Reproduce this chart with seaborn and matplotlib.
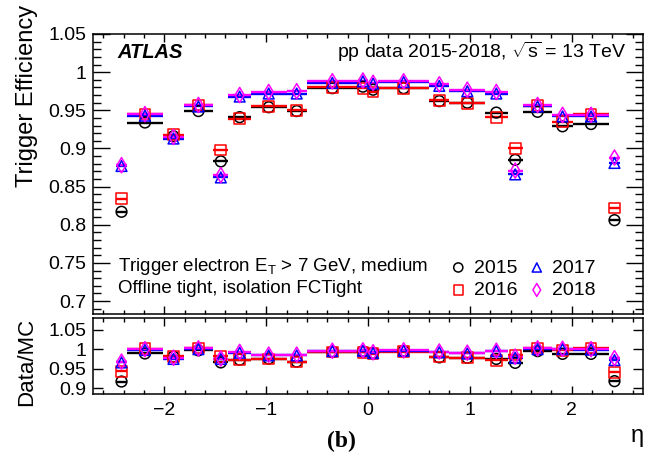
import numpy as np
import pandas as pd
import seaborn as sns
import matplotlib.pyplot as plt
from matplotlib.markers import MarkerStyle
from matplotlib.ticker import MultipleLocator

# eta binning (bin edges) of the efficiency measurement
eta_edges = [-2.47, -2.37, -2.01, -1.81, -1.52, -1.37, -1.15, -0.8, -0.6, -0.1, 0.0,
             0.1, 0.6, 0.8, 1.15, 1.37, 1.52, 1.81, 2.01, 2.37, 2.47]

years = ['2015', '2016', '2017', '2018']

# trigger efficiency per eta bin
eff_2015 = [0.817, 0.934, 0.916, 0.949, 0.883, 0.941, 0.954, 0.949, 0.979, 0.981,
            0.977, 0.979, 0.962, 0.960, 0.947, 0.885, 0.948, 0.929, 0.932, 0.806]
eff_2016 = [0.834, 0.945, 0.918, 0.957, 0.898, 0.939, 0.955, 0.950, 0.980, 0.979,
            0.974, 0.979, 0.963, 0.959, 0.941, 0.900, 0.956, 0.935, 0.945, 0.822]
eff_2017 = [0.877, 0.943, 0.913, 0.955, 0.862, 0.968, 0.972, 0.972, 0.986, 0.988,
            0.985, 0.987, 0.982, 0.975, 0.972, 0.866, 0.955, 0.942, 0.942, 0.881]
eff_2018 = [0.878, 0.945, 0.915, 0.957, 0.865, 0.970, 0.974, 0.975, 0.988, 0.989,
            0.986, 0.988, 0.984, 0.977, 0.974, 0.871, 0.957, 0.944, 0.944, 0.888]

# data / MC ratio per eta bin
ratio_2015 = [0.917, 0.989, 0.981, 0.997, 0.966, 0.973, 0.976, 0.968, 0.993, 0.994,
              0.990, 0.995, 0.979, 0.978, 0.975, 0.965, 0.995, 0.988, 0.988, 0.918]
ratio_2016 = [0.943, 1.001, 0.982, 1.003, 0.982, 0.973, 0.975, 0.967, 0.993, 0.992,
              0.988, 0.994, 0.980, 0.978, 0.971, 0.985, 1.003, 0.997, 1.003, 0.941]
ratio_2017 = [0.966, 0.998, 0.975, 1.000, 0.975, 0.991, 0.984, 0.984, 0.995, 0.996,
              0.990, 0.996, 0.992, 0.989, 0.995, 0.978, 1.000, 1.000, 0.999, 0.972]
ratio_2018 = [0.968, 1.000, 0.978, 1.002, 0.976, 0.993, 0.986, 0.986, 0.996, 0.997,
              0.992, 0.997, 0.994, 0.991, 0.996, 0.981, 1.002, 1.001, 1.000, 0.977]

colors = {'2015': 'black', '2016': '#ff0000', '2017': '#0000ff', '2018': '#ff00ff'}
markers = {'2015': 'o', '2016': 's', '2017': '^', '2018': 'd'}

edges = np.array(eta_edges)
centers = 0.5 * (edges[1:] + edges[:-1])
halfw = 0.5 * (edges[1:] - edges[:-1])

effs = [eff_2015, eff_2016, eff_2017, eff_2018]
ratios = [ratio_2015, ratio_2016, ratio_2017, ratio_2018]
rows = []
for yr, e, r in zip(years, effs, ratios):
    for c, hw, ev, rv in zip(centers, halfw, e, r):
        rows.append({'year': yr, 'eta': c, 'hw': hw, 'eff': ev, 'ratio': rv})
df = pd.DataFrame(rows)

sns.set_style('ticks')
plt.rcParams['font.family'] = ['Liberation Sans', 'DejaVu Sans']
plt.rcParams['mathtext.fontset'] = 'custom'
plt.rcParams['mathtext.rm'] = 'Liberation Sans'
plt.rcParams['mathtext.it'] = 'Liberation Sans:italic'
plt.rcParams['axes.linewidth'] = 1.1
plt.rcParams['axes.edgecolor'] = 'black'
plt.rcParams['text.color'] = 'black'

W, H = 645, 465
fig = plt.figure(figsize=(W / 100, H / 100), dpi=100)
ax1 = fig.add_axes([93 / W, 1 - 314 / H, 550 / W, 280 / H])
ax2 = fig.add_axes([93 / W, 1 - 394 / H, 550 / W, 76 / H], sharex=ax1)

handles = []
for yr in years:
    sub = df[df['year'] == yr]
    col = colors[yr]
    mk = MarkerStyle(markers[yr], fillstyle='none')
    for ax, var in [(ax1, 'eff'), (ax2, 'ratio')]:
        ax.errorbar(sub['eta'], sub[var], xerr=sub['hw'], fmt='none',
                    ecolor=col, elinewidth=1.7, capsize=0, zorder=2)
        sns.scatterplot(data=sub, x='eta', y=var, marker=mk, color=col, s=60,
                        linewidth=1.1, ax=ax, zorder=3,
                        label=yr if ax is ax1 else None, legend=False)
    handles.append(ax1.collections[-1])

# axes ranges and ticks
ax1.set_xlim(-2.7, 2.7)
ax1.set_ylim(0.683, 1.05)
ax2.set_ylim(0.885, 1.08)

ax1.yaxis.set_minor_locator(MultipleLocator(0.01))
ax1.xaxis.set_major_locator(MultipleLocator(1))
ax1.xaxis.set_minor_locator(MultipleLocator(0.2))
ax1.set_yticks([0.7, 0.75, 0.8, 0.85, 0.9, 0.95, 1.0, 1.05])
ax1.set_yticklabels(['0.7', '0.75', '0.8', '0.85', '0.9', '0.95', '1', '1.05'])
ax2.set_yticks([0.9, 0.95, 1.0, 1.05])
ax2.set_yticklabels(['0.9', '0.95', '1', '1.05'])

for ax in (ax1, ax2):
    ax.tick_params(which='both', direction='in', top=True, right=True,
                   labelsize=14, width=1.0, pad=5, color='black',
                   labelcolor='black')
    ax.set_xlabel('')
    ax.set_ylabel('')
ax1.tick_params(axis='y', which='major', length=12)
ax1.tick_params(axis='y', which='minor', length=6)
ax1.tick_params(axis='x', which='major', length=6)
ax1.tick_params(axis='x', which='minor', length=3)
ax1.tick_params(axis='x', labelbottom=False)
ax2.tick_params(axis='y', which='major', length=7)
ax2.tick_params(axis='x', which='major', length=6)
ax2.tick_params(axis='x', which='minor', length=3)
ax2.tick_params(axis='x', pad=6)

# labels
fig.text(27 / W, 1 - 5 / H, 'Trigger Efficiency', rotation=90, ha='center',
         va='top', fontsize=17)
fig.text(27 / W, 1 - 318 / H, 'Data/MC', rotation=90, ha='center',
         va='top', fontsize=16)
fig.text(1 - 1 / W, 1 - 436 / H, 'η', ha='right', va='center', fontsize=17)
fig.text(341 / W, 1 - 441 / H, '(b)', ha='center', va='center', fontsize=17,
         family='Liberation Serif', weight='bold')

ax1.text(0.045, 0.935, 'ATLAS', transform=ax1.transAxes, fontsize=14.5,
         weight='bold', style='italic', va='center')
ax1.text(0.97, 0.935, r'pp data 2015-2018, $\sqrt{\rm s}$ = 13 TeV',
         transform=ax1.transAxes, fontsize=14, ha='right', va='center')
ax1.text(0.045, 0.17, r'Trigger electron E$_{\rm T}$ > 7 GeV, medium',
         transform=ax1.transAxes, fontsize=13.5, va='center')
ax1.text(0.045, 0.09, 'Offline tight, isolation FCTight',
         transform=ax1.transAxes, fontsize=13.5, va='center')

ax1.legend(handles=handles, labels=years, ncol=2, frameon=False, fontsize=14,
           loc='center left', bbox_to_anchor=(0.65, 0.125), handlelength=0.8,
           handletextpad=0.4, columnspacing=0.6, labelspacing=0.25,
           borderaxespad=0, borderpad=0, markerscale=0.85)

fig.savefig('out.png', dpi=100)
